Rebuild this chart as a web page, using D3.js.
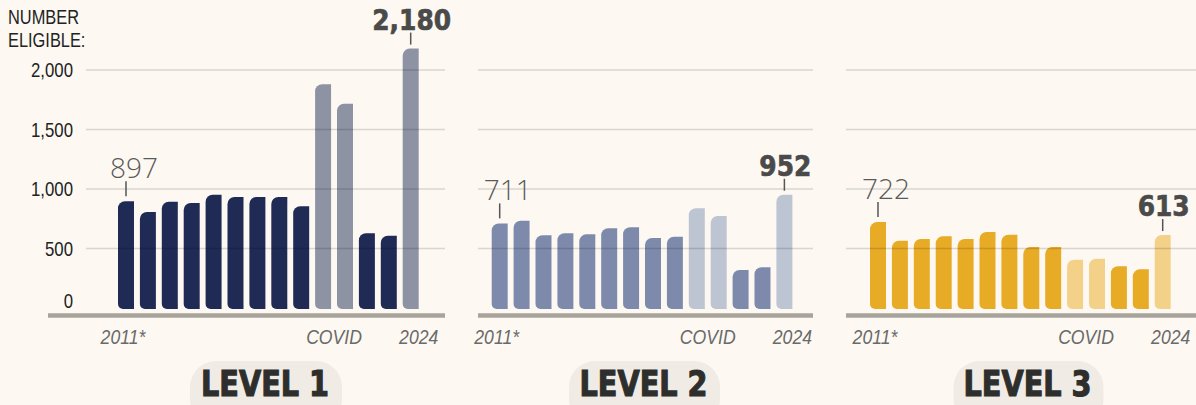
<!DOCTYPE html>
<html>
<head>
<meta charset="utf-8">
<script src="https://cdn.jsdelivr.net/npm/d3@7"></script>
<style>
  html, body { margin: 0; padding: 0; background: #fdf9f2; }
  svg { display: block; }
</style>
</head>
<body>
<svg id="chart" width="1196" height="405"></svg>
<script>
// ---------------- DATA ----------------
const years = ["2011","2012","2013","2014","2015","2016","2017","2018","2019","2020","2021","2022","2023","2024"];
const level1 = [897, 807, 893, 882, 952, 933, 933, 933, 855, 1880, 1717, 628, 608, 2180];
const level2 = [711, 734, 611, 628, 619, 670, 678, 588, 599, 838, 773, 319, 342, 952];
const level3 = [722, 566, 580, 602, 580, 639, 616, 513, 513, 406, 414, 351, 325, 613];
const highlightYears = ["2020", "2021", "2024"];   // COVID years + latest year
const covidYears = ["2020", "2021"];
const yTicks = [0, 500, 1000, 1500, 2000];
const yearLabels = ["2011*", "COVID", "2024"];
const panelNames = ["LEVEL 1", "LEVEL 2", "LEVEL 3"];
const yTitle = ["NUMBER", "ELIGIBLE:"];

// ---------------- LAYOUT ----------------
const W = 1196, H = 405;
const svg = d3.select("#chart");
svg.append("rect").attr("width", W).attr("height", H).attr("fill", "#fdf9f2");

const y = d3.scaleLinear().domain([0, 2000]).range([308, 70]);
const barBottom = 309;
const step = 21.9;

const panels = [
  { values: level1, barLeft: 118,   grid: [86, 445],  axis: [48, 445],  pillX: 190,   pillW: 152,
    colors: ["#1f2b55", "#8d93a3"] },
  { values: level2, barLeft: 491.7, grid: [478, 813], axis: [478, 813], pillX: 569,   pillW: 151,
    colors: ["#7d8aac", "#bdc4d2"] },
  { values: level3, barLeft: 870,   grid: [846, 1196], axis: [846, 1196], pillX: 953.5, pillW: 150,
    colors: ["#e8ab25", "#f3d189"] }
];

const sans = "'Liberation Sans', Arial, sans-serif";
const fmt = d3.format(",");

// place a text horizontally condensed by factor sx
function placeText(sel, x, yy, sx) {
  return sel.attr("x", 0).attr("y", 0)
    .attr("transform", `translate(${x},${yy}) scale(${sx},1)`);
}

function barPath(x, yTop, w, yBot, rt, rb) {
  const h = yBot - yTop;
  rt = Math.min(rt, h / 2); rb = Math.min(rb, h / 2);
  return `M${x + rt},${yTop} H${x + w} V${yBot} H${x + rb} A${rb},${rb} 0 0 1 ${x},${yBot - rb} V${yTop + rt} A${rt},${rt} 0 0 1 ${x + rt},${yTop} Z`;
}

panels.forEach((p, pi) => {
  const g = svg.append("g");
  const x = d3.scaleBand()
    .domain(years)
    .range([p.barLeft - step * 0.135, p.barLeft - step * 0.135 + step * years.length])
    .paddingInner(0.27).paddingOuter(0.135);
  const bw = x.bandwidth();

  // bars
  g.selectAll("path.bar").data(years).join("path")
    .attr("class", "bar")
    .attr("d", (yr, i) => barPath(x(yr), y(p.values[i]), bw, barBottom, 7, 5))
    .attr("fill", yr => highlightYears.includes(yr) ? p.colors[1] : p.colors[0]);

  // gridlines (on top of bars, translucent)
  g.selectAll("line.grid").data(yTicks.filter(t => t > 0)).join("line")
    .attr("class", "grid")
    .attr("x1", p.grid[0]).attr("x2", p.grid[1])
    .attr("y1", d => y(d)).attr("y2", d => y(d))
    .attr("stroke", "#000").attr("stroke-opacity", 0.14).attr("stroke-width", 1.5);

  // baseline axis
  g.append("line")
    .attr("x1", p.axis[0]).attr("x2", p.axis[1])
    .attr("y1", 315.5).attr("y2", 315.5)
    .attr("stroke", "#a8a49c").attr("stroke-width", 4.5);

  const first = years[0], last = years[years.length - 1];
  const v0 = p.values[0], vN = p.values[years.length - 1];
  const cx0 = x(first) + bw / 2, cxN = x(last) + bw / 2;

  // first value label (light)
  g.append("line")
    .attr("x1", cx0).attr("x2", cx0)
    .attr("y1", y(v0) - 20).attr("y2", y(v0) - 5)
    .attr("stroke", "#555").attr("stroke-width", 1.5);
  g.append("text")
    .attr("x", cx0 + 8).attr("y", y(v0) - 23)
    .attr("text-anchor", "middle")
    .attr("font-family", "'Open Sans', 'Noto Sans', sans-serif")
    .attr("font-weight", 300)
    .attr("font-size", 28)
    .attr("fill", "#5a5a5a")
    .text(fmt(v0));

  // last value label (bold)
  g.append("line")
    .attr("x1", cxN).attr("x2", cxN)
    .attr("y1", y(vN) - 16).attr("y2", y(vN) - 4)
    .attr("stroke", "#555").attr("stroke-width", 1.5);
  placeText(g.append("text"), cxN + 1, y(vN) - 19, 0.86)
    .attr("text-anchor", "middle")
    .attr("font-family", "'DejaVu Sans', sans-serif")
    .attr("font-weight", 700)
    .attr("font-size", 29)
    .attr("fill", "#4a4a4a")
    .attr("stroke", "#4a4a4a").attr("stroke-width", 0.7)
    .text(fmt(vN));

  // year labels
  const covidMid = (x(covidYears[0]) + x(covidYears[1]) + bw) / 2;
  const ylPos = [cx0 - 3, covidMid, cxN + 8];
  g.selectAll("text.yl").data(yearLabels).join("text")
    .attr("class", "yl")
    .each(function (d, i) { placeText(d3.select(this), ylPos[i], 344, 0.84); })
    .attr("text-anchor", "middle")
    .attr("font-family", sans)
    .attr("font-style", "italic")
    .attr("font-size", 21)
    .attr("fill", "#6a6a6a")
    .text(d => d);

  // pill + level title
  g.append("rect")
    .attr("x", p.pillX).attr("y", 361)
    .attr("width", p.pillW).attr("height", 64)
    .attr("rx", 26).attr("ry", 26)
    .attr("fill", "#f0ece5");
  placeText(g.append("text"), p.pillX + p.pillW / 2 - 1, 396, 0.82)
    .attr("text-anchor", "middle")
    .attr("font-family", "'DejaVu Sans', sans-serif")
    .attr("font-weight", 700)
    .attr("font-size", 35)
    .attr("fill", "#2e2e2c")
    .attr("stroke", "#2e2e2c").attr("stroke-width", 1.2)
    .text(panelNames[pi]);
});

// y tick labels (panel 1 only)
svg.append("g").selectAll("text").data(yTicks).join("text")
  .each(function (d) { placeText(d3.select(this), 73, d === 0 ? y(0) - 7 : y(d), 0.84); })
  .attr("dy", "0.35em")
  .attr("text-anchor", "end")
  .attr("font-family", sans)
  .attr("font-size", 20)
  .attr("fill", "#222")
  .text(d => fmt(d));

// y title
svg.append("g").selectAll("text").data(yTitle).join("text")
  .each(function (d, i) { placeText(d3.select(this), 8, 24 + i * 23, 0.82); })
  .attr("font-family", sans)
  .attr("font-size", 20)
  .attr("fill", "#222")
  .text(d => d);
</script>
</body>
</html>
